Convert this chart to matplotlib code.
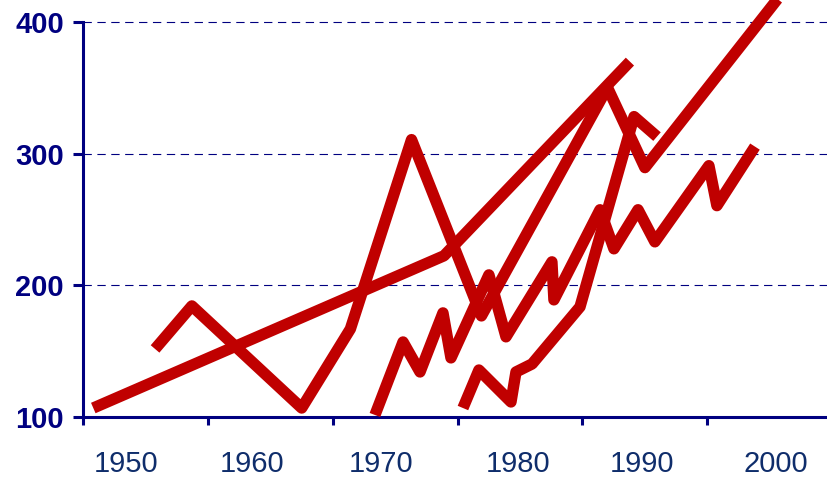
import matplotlib
matplotlib.use("Agg")
import matplotlib.pyplot as plt
import matplotlib.transforms as mtransforms

# ---- data ----
a_years = [1950.8, 1978.9, 1993.8]
a_vals = [106.6, 222.3, 369.9]

b_years = [1955.75, 1958.7, 1967.5, 1971.4, 1976.3, 1981.9, 1992.0, 1995.0, 2006.5]
b_vals = [151.5, 184.2, 106.6, 166.7, 310.6, 176.6, 350.2, 289.3, 428.0]

c_years = [1973.37, 1975.62, 1976.98, 1978.82, 1979.46, 1982.5, 1983.87, 1987.55,
           1987.71, 1991.4, 1992.52, 1994.45, 1995.8, 2000.13, 2000.77, 2003.82]
c_vals = [101.3, 156.8, 134.0, 178.9, 144.7, 207.8, 160.7, 217.7,
          188.8, 257.3, 227.6, 257.3, 232.9, 290.8, 260.4, 305.3]

d_years = [1980.42, 1981.7, 1984.27, 1984.67, 1985.96, 1989.8, 1994.13, 1995.97]
d_vals = [106.6, 135.5, 111.2, 134.0, 140.1, 183.5, 328.1, 312.9]

y_ticks = [100, 200, 300, 400]
x_tick_marks = [1950, 1960, 1970, 1980, 1990, 2000, 2010]
x_labels = ['1950', '1960', '1970', '1980', '1990', '2000']
x_label_pos = [1953.42, 1963.52, 1973.85, 1984.83, 1994.77, 2005.5]

# ---- style ----
plt.rcParams['font.family'] = ['Liberation Sans', 'DejaVu Sans']
RED = '#C00000'
NAVY = '#000080'
XLAB = '#0F2D6B'

fig = plt.figure(figsize=(8.28, 4.82), dpi=100)
ax = fig.add_axes([83.3 / 828, (482 - 416.7) / 482, 748.8 / 828, (416.7 - 22) / 482])
ax.set_xlim(1950, 2010)
ax.set_ylim(100, 400)

for yy in y_ticks[1:]:
    ax.axhline(yy, color=NAVY, lw=0.8, linestyle=(0, (7.5, 5)), zorder=1, clip_on=False)

for xs, ys in [(a_years, a_vals), (b_years, b_vals), (c_years, c_vals), (d_years, d_vals)]:
    ax.plot(xs, ys, color=RED, lw=8.2, solid_joinstyle='round', solid_capstyle='butt',
            clip_on=False, zorder=3)

for s in ['top', 'right']:
    ax.spines[s].set_visible(False)
for s in ['left', 'bottom']:
    ax.spines[s].set_color(NAVY)
    ax.spines[s].set_linewidth(2.2)

ax.set_yticks(y_ticks)
ax.set_yticklabels([str(v) for v in y_ticks], fontsize=21, fontweight='bold', color=NAVY)
ax.tick_params(axis='y', direction='out', length=7, width=2.2, color=NAVY, pad=7)

ax.set_xticks(x_tick_marks)
ax.set_xticklabels([])
ax.tick_params(axis='x', direction='out', length=6, width=2.2, color=NAVY)

trans = mtransforms.blended_transform_factory(ax.transData, ax.transAxes)
for pos, lab in zip(x_label_pos, x_labels):
    ax.text(pos, -0.12, lab, transform=trans, ha='center', va='center',
            fontsize=21, color=XLAB, clip_on=False)

fig.savefig('out.png', dpi=100)
